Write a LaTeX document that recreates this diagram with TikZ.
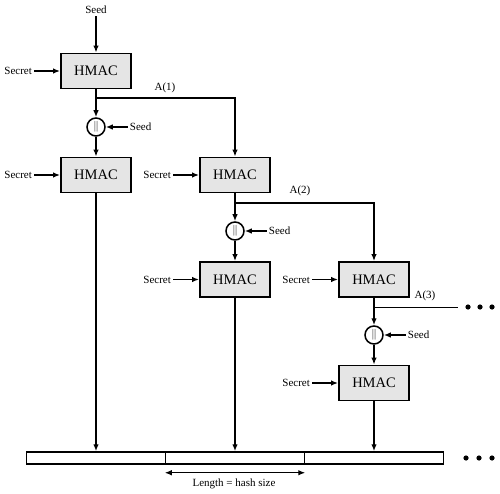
\documentclass[tikz,border=0pt]{standalone}
\usepackage{fontspec}
\setmainfont{Liberation Serif}
\usetikzlibrary{positioning,arrows.meta}

\begin{document}
\begin{tikzpicture}[x=10pt, y=10pt, >={Latex[length=7pt,width=5.5pt]},
    every node/.style={font=\fontsize{11}{13}\selectfont},
    hmac/.style={draw, line width=1.8pt, fill=gray!20, minimum width=70pt, minimum height=35pt, inner sep=0pt, font=\fontsize{14.5}{16}\selectfont},
    concat/.style={draw, circle, line width=1.5pt, minimum size=18pt, inner sep=0pt},
    seg/.style={draw, line width=1.5pt, minimum width=139pt, minimum height=12pt, inner sep=0pt},
    lbl/.style={inner sep=2pt},
    flow/.style={->, line width=1.5pt}]
    \useasboundingbox (0,0) rectangle (50,-49.4);

    % HMAC blocks (three columns)
    \node[hmac] (h11) at (9.6,-7.1)   {HMAC};
    \node[hmac] (h12) at (9.6,-17.5)  {HMAC};
    \node[hmac] (h21) at (23.5,-17.5) {HMAC};
    \node[hmac] (h22) at (23.5,-27.95) {HMAC};
    \node[hmac] (h31) at (37.4,-27.95) {HMAC};
    \node[hmac] (h32) at (37.4,-38.3) {HMAC};

    % Concatenation with the seed
    \node[concat] (c1) at (9.6,-12.7)  {$\|$};
    \node[concat] (c2) at (23.5,-23.1) {$\|$};
    \node[concat] (c3) at (37.4,-33.5) {$\|$};
    \node[lbl, right=22pt of c1] (s1) {Seed};
    \node[lbl, right=22pt of c2] (s2) {Seed};
    \node[lbl, right=22pt of c3] (s3) {Seed};
    \foreach \i in {1,2,3} \draw[flow] (s\i) -- (c\i);

    % Secret inputs
    \foreach \h in {h11,h12,h21,h22,h31,h32} {
        \node[lbl, left=26pt of \h] (k\h) {Secret};
        \draw[flow] (k\h) -- (\h);
    }

    % Seed into the first block
    \node[lbl] (seed) at (9.6,-1.0) {Seed};
    \draw[flow] (seed) -- (h11);

    % A(i) chain
    \coordinate (b1) at (9.6,-9.8);
    \coordinate (b2) at (23.5,-20.3);
    \coordinate (b3) at (37.4,-30.7);
    \coordinate (e3) at (45.8,-30.7);
    \draw[flow] (h11) -- (c1);
    \draw[flow] (c1) -- (h12);
    \draw[flow] (b1) -| (h21);
    \draw[flow] (h21) -- (c2);
    \draw[flow] (c2) -- (h22);
    \draw[flow] (b2) -| (h31);
    \draw[flow] (h31) -- (c3);
    \draw[flow] (c3) -- (h32);
    \draw[line width=1pt] (b3) -- (e3);
    \node (a1) at (16.5,-8.8)  {A(1)};
    \node (a2) at (30.0,-19.1) {A(2)};
    \node (a3) at (42.5,-29.6) {A(3)};
    \foreach \x in {46.8,48.0,49.2} \fill (\x,-30.7) circle (2.6pt);

    % Output string
    \node[seg] (o1) at (9.6,-45.8)  {};
    \node[seg] (o2) at (23.5,-45.8) {};
    \node[seg] (o3) at (37.4,-45.8) {};
    \draw[flow] (h12) -- (o1);
    \draw[flow] (h22) -- (o2);
    \draw[flow] (h32) -- (o3);
    \foreach \x in {46.6,47.9,49.2} \fill (\x,-45.8) circle (2.6pt);

    % Block length
    \coordinate (l1) at ([yshift=-8pt]o2.south west);
    \coordinate (l2) at ([yshift=-8pt]o2.south east);
    \draw[<->, line width=1.2pt] (l1) -- (l2);
    \node (len) at (23.4,-48.4) {Length = hash size};
\end{tikzpicture}
\end{document}
